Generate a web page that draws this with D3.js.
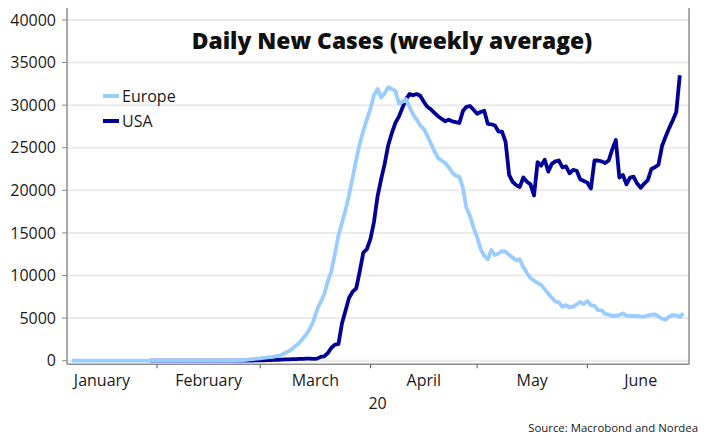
<!DOCTYPE html>
<html>
<head>
<meta charset="utf-8">
<script src="https://cdn.jsdelivr.net/npm/d3@7"></script>
<style>
  html, body { margin: 0; padding: 0; background: #fff; }
  svg { display: block; font-family: "Open Sans", "Noto Sans", sans-serif; }
</style>
</head>
<body>
<div id="chart"></div>
<script>
// daily values, weekly average of new cases
const europeStart = '2020-01-08';
const europeValues = [
  0, 0, 0, 0, 0, 0, 0, 0, 0, 0, 0, 0, 0, 0, 0, 0, 0, 0, 0, 0,
  0, 0, 0, 0, 0, 0, 0, 0, 0, 0, 0, 0, 0, 0, 0, 0, 0, 0, 0,
  1, 1, 2, 3, 5, 10, 20,
  35, 55, 80, 110, 150, 200, 250,
  280, 330, 380, 430, 480, 560, 700, 900, 1100, 1400,
  1750, 2100, 2600, 3100, 3800, 4700, 6000, 6900, 7800, 9300,
  10500, 12500, 14700, 16200, 17700, 19500, 21500, 23600, 25500, 27000,
  28300, 29600, 31200, 31900, 30900, 31400, 32100, 31900, 31700, 30200,
  30400, 30700, 29800, 28900, 28300, 27600, 27200, 26400, 25500, 24600,
  23800, 23500, 23200, 22700, 22100, 21700, 21600, 20300, 17900, 17000,
  15600, 14500, 13100, 12300, 11900, 13000, 12400, 12600, 12850, 12800,
  12400, 12100, 11800, 11900, 11000, 10300, 9700, 9400, 9150, 8900,
  8400, 7900, 7400, 6950, 6850, 6330, 6530, 6260, 6350, 6600,
  6910, 6640, 7000, 6530, 6450, 5940, 5900, 5500, 5400, 5270,
  5270, 5350, 5550, 5300, 5270, 5250, 5250, 5200, 5160, 5300,
  5400, 5450, 5200, 4950, 4800, 5200, 5350, 5300, 5160, 5550
];
const usaStart = '2020-01-30';
const usaValues = [
  0, 0, 0, 0, 0, 0, 0, 0, 0, 0, 0, 0, 0, 0, 0, 0, 0,
  1, 2, 3, 4, 5, 6, 8, 10, 12, 15,
  18, 22, 28, 35,
  45, 55, 65, 80, 95, 110, 130, 150, 165, 180,
  195, 210, 225, 235, 240, 220, 250, 450, 500, 900,
  1500, 1900, 1950, 4400, 5900, 7400, 8100, 8500, 10500, 12700,
  13100, 14300, 16300, 19300, 21300, 23100, 25300, 26700, 27900, 28650,
  29700, 30700, 31300, 31150, 31300, 31100, 30400, 29800, 29500, 29100,
  28700, 28400, 28100, 28300, 28100, 28000, 27900, 29300, 29800, 29900,
  29450, 28990, 29200, 29350, 27800, 27750, 27600, 26900, 26900, 25700,
  21800, 21000, 20600, 20400, 21500, 21000, 20700, 19400, 23300, 22900,
  23600, 22200, 23100, 23400, 23500, 22700, 22800, 22000, 22400, 22300,
  21300, 21100, 20900, 20200, 23500, 23500, 23400, 23200, 23500, 24800,
  25900, 21500, 21800, 20700, 21500, 21600, 20800, 20300, 20800, 21200,
  22500, 22700, 23000, 25200, 26300, 27300, 28200, 29200, 33500
];
const yTicks = [0, 5000, 10000, 15000, 20000, 25000, 30000, 35000, 40000];
const monthStarts = ['2020-01-01', '2020-02-01', '2020-03-01', '2020-04-01', '2020-05-01', '2020-06-01', '2020-07-01'];
const monthLabels = ['January', 'February', 'March', 'April', 'May', 'June'];
const yearLabel = '20';
const title = 'Daily New Cases (weekly average)';
const source = 'Source: Macrobond and Nordea';

const parse = d3.timeParse('%Y-%m-%d');

function toSeries(start, values) {
  const t0 = parse(start);
  return values.map((v, i) => ({ date: d3.timeDay.offset(t0, i), value: v }));
}

const series = [
  { name: 'USA', color: '#000099', data: toSeries(usaStart, usaValues) },
  { name: 'Europe', color: '#99ccff', data: toSeries(europeStart, europeValues) }
];

const width = 710, height = 448;
const svg = d3.select('#chart').append('svg')
  .attr('width', width)
  .attr('height', height);

const plot = { left: 67, right: 689, top: 8, bottom: 364.3 };

const x = d3.scaleTime()
  .domain([d3.timeHour.offset(parse('2020-01-06'), 16), d3.timeHour.offset(parse('2020-06-29'), 14)])
  .range([plot.left, plot.right]);
const y = d3.scaleLinear()
  .domain([-420, 41400])
  .range([plot.bottom, plot.top]);

// grid
svg.append('g').selectAll('line')
  .data(yTicks)
  .enter().append('line')
  .attr('x1', plot.left).attr('x2', plot.right)
  .attr('y1', d => y(d)).attr('y2', d => y(d))
  .attr('stroke', '#ebebeb')
  .attr('stroke-width', 2);

// lines
const line = d3.line()
  .x(d => x(d.date))
  .y(d => y(d.value));

svg.append('g').selectAll('path')
  .data(series)
  .enter().append('path')
  .attr('d', d => line(d.data))
  .attr('fill', 'none')
  .attr('stroke', d => d.color)
  .attr('stroke-width', 3.8)
  .attr('stroke-linejoin', 'round');

// frame
const frame = svg.append('g')
  .attr('stroke', '#8c8c8c')
  .attr('stroke-width', 1.5);
frame.append('line')
  .attr('x1', plot.left).attr('x2', plot.left).attr('y1', plot.top).attr('y2', plot.bottom);
frame.append('line')
  .attr('x1', plot.right).attr('x2', plot.right).attr('y1', plot.top).attr('y2', plot.bottom);
frame.append('line')
  .attr('x1', plot.left).attr('x2', plot.right).attr('y1', plot.bottom).attr('y2', plot.bottom);

// y axis
const yAxis = svg.append('g');
yAxis.selectAll('line')
  .data(yTicks)
  .enter().append('line')
  .attr('x1', plot.left - 5).attr('x2', plot.left)
  .attr('y1', d => y(d)).attr('y2', d => y(d))
  .attr('stroke', '#8c8c8c');
yAxis.selectAll('text')
  .data(yTicks)
  .enter().append('text')
  .attr('x', plot.left - 11)
  .attr('y', d => y(d))
  .attr('dy', '0.35em')
  .attr('text-anchor', 'end')
  .attr('font-size', 16)
  .attr('fill', '#1a1a1a')
  .text(d => d);

// x axis
const months = monthStarts.map(parse);
const xAxis = svg.append('g');
xAxis.selectAll('line')
  .data(months.filter(m => m > x.domain()[0] && m < x.domain()[1]))
  .enter().append('line')
  .attr('x1', d => x(d)).attr('x2', d => x(d))
  .attr('y1', plot.bottom).attr('y2', plot.bottom + 4)
  .attr('stroke', '#555');
xAxis.selectAll('text')
  .data(monthLabels)
  .enter().append('text')
  .attr('x', (d, i) => (x(months[i]) + x(months[i + 1])) / 2)
  .attr('y', 380)
  .attr('dy', '0.35em')
  .attr('text-anchor', 'middle')
  .attr('font-size', 16)
  .attr('fill', '#1a1a1a')
  .text(d => d);
svg.append('text')
  .attr('x', x(d3.timeDay.offset(months[3], 2)))
  .attr('y', 403)
  .attr('dy', '0.35em')
  .attr('text-anchor', 'middle')
  .attr('font-size', 16)
  .attr('fill', '#1a1a1a')
  .text(yearLabel);

// title
svg.append('text')
  .attr('x', 392)
  .attr('y', 49)
  .attr('text-anchor', 'middle')
  .attr('font-family', '"Open Sans", sans-serif')
  .attr('font-weight', 800)
  .attr('font-size', 22.8)
  .attr('fill', '#111')
  .text(title);

// legend
const legend = svg.append('g').attr('transform', 'translate(103,96)');
const legendItems = [series[1], series[0]];
legendItems.forEach((s, i) => {
  const g = legend.append('g').attr('transform', `translate(0,${i * 25})`);
  g.append('line')
    .attr('x1', 0).attr('x2', 16)
    .attr('stroke', s.color)
    .attr('stroke-width', 4);
  g.append('text')
    .attr('x', 19)
    .attr('dy', '0.35em')
    .attr('font-size', 16)
    .attr('fill', '#1a1a1a')
    .text(s.name);
});

// source
svg.append('text')
  .attr('x', 698)
  .attr('y', 428)
  .attr('dy', '0.35em')
  .attr('text-anchor', 'end')
  .attr('font-size', 11.4)
  .attr('fill', '#1a1a1a')
  .text(source);
</script>
</body>
</html>
